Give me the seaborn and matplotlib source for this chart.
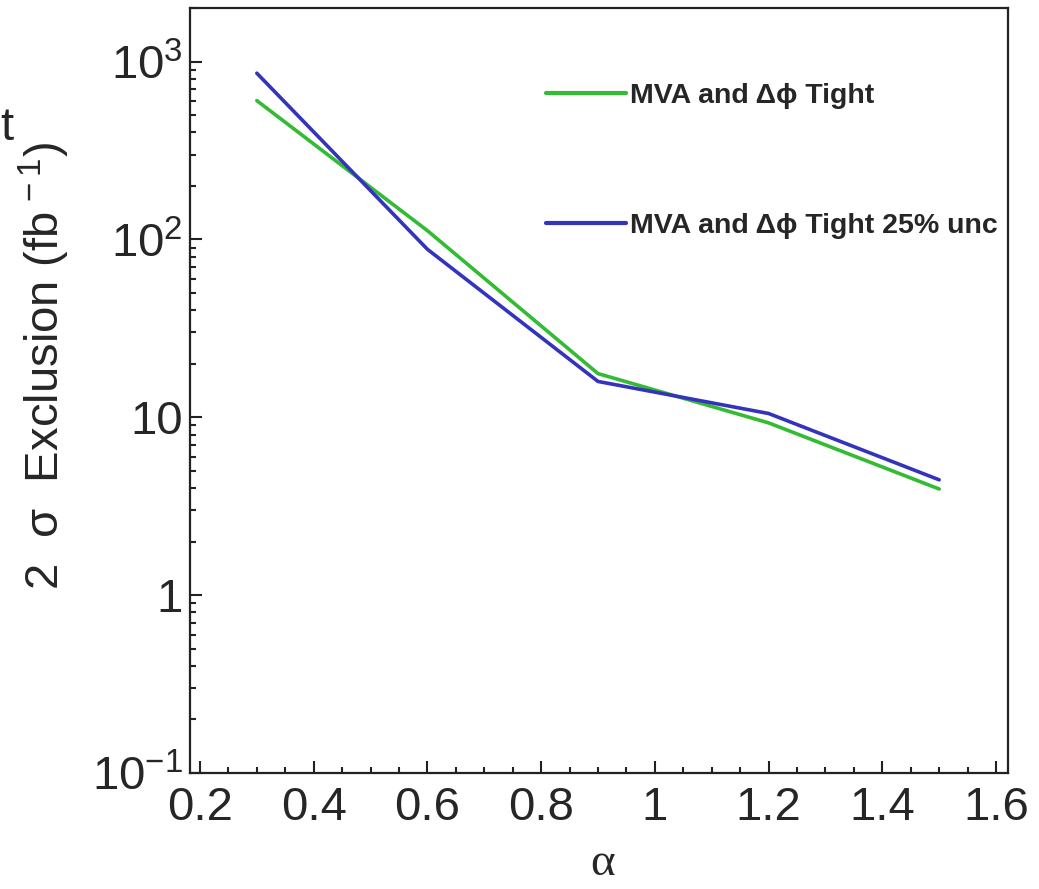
import numpy as np
import pandas as pd
import seaborn as sns
import matplotlib
matplotlib.use('Agg')
from matplotlib import pyplot as plt
from matplotlib.ticker import FixedLocator, FixedFormatter, LogLocator, MultipleLocator, NullFormatter

alpha = [0.3, 0.6, 0.9, 1.2, 1.5]
tight = [603, 112, 17.6, 9.3, 3.95]
tight_unc = [860, 88, 15.9, 10.5, 4.45]
labels = ['MVA and \u0394\u03d5 Tight', 'MVA and \u0394\u03d5 Tight 25% unc']
colors = ['#33bb33', '#3333bb']
yticks = [0.1, 1, 10, 100, 1000]
ytick_labels = ['$10^{-1}$', '1', '10', '$10^{2}$', '$10^{3}$']

df = pd.concat([
    pd.DataFrame({'alpha': alpha, 'excl': tight, 'curve': labels[0]}),
    pd.DataFrame({'alpha': alpha, 'excl': tight_unc, 'curve': labels[1]}),
], ignore_index=True)

sns.set_style('white')
plt.rcParams['font.family'] = ['Liberation Sans', 'DejaVu Sans']
plt.rcParams['mathtext.fontset'] = 'custom'
plt.rcParams['mathtext.rm'] = 'Liberation Sans'
plt.rcParams['mathtext.it'] = 'Liberation Sans:italic'

fig = plt.figure(figsize=(10.39, 8.89), dpi=100)
ax = fig.add_axes([190 / 1039, 1 - 773 / 889, 818 / 1039, 765 / 889])

sns.lineplot(data=df, x='alpha', y='excl', hue='curve', palette=colors,
             linewidth=2.6, ax=ax, legend=False)

ax.set_yscale('log')
ax.set_xlim(0.1825, 1.621)
ax.set_ylim(0.1, 2000)

ax.yaxis.set_major_locator(FixedLocator(yticks))
ax.yaxis.set_major_formatter(FixedFormatter(ytick_labels))
ax.yaxis.set_minor_locator(LogLocator(base=10, subs=np.arange(2, 10)))
ax.yaxis.set_minor_formatter(NullFormatter())
ax.xaxis.set_major_locator(MultipleLocator(0.2))
ax.xaxis.set_minor_locator(MultipleLocator(0.05))
ax.xaxis.set_major_formatter(plt.FuncFormatter(lambda v, p: ('%g' % round(v, 2))))

ax.tick_params(which='both', direction='in', left=True, bottom=True, top=False, right=False,
               labelsize=34, width=1.5, color='#222222')
ax.tick_params(which='major', length=8.6)
ax.tick_params(which='minor', length=4.5)
ax.tick_params(axis='x', pad=9)
ax.tick_params(axis='y', pad=5)
for s in ax.spines.values():
    s.set_linewidth(1.6)
    s.set_color('#222222')

ax.set_xlabel('\u03b1', fontsize=34, family='Liberation Serif', va='center')
ax.xaxis.set_label_coords(0.505, -0.118)
ax.set_ylabel('2  \u03c3  Exclusion (fb$^{\\,-1}$)', fontsize=34)
ax.yaxis.set_label_coords(-0.144, 0.532)

handles = [plt.Line2D([], [], color=c, linewidth=3) for c in colors]
leg = ax.legend(handles, labels, loc='upper left', bbox_to_anchor=(0.435, 0.902),
                frameon=False, handlelength=2.8, handletextpad=0.15, labelspacing=3.65,
                borderpad=0, borderaxespad=0, prop={'weight': 'bold', 'size': 20.5})

fig.text(0.0, 0.856, 't', fontsize=34, ha='left', va='center')

fig.savefig('out.png', dpi=100)
